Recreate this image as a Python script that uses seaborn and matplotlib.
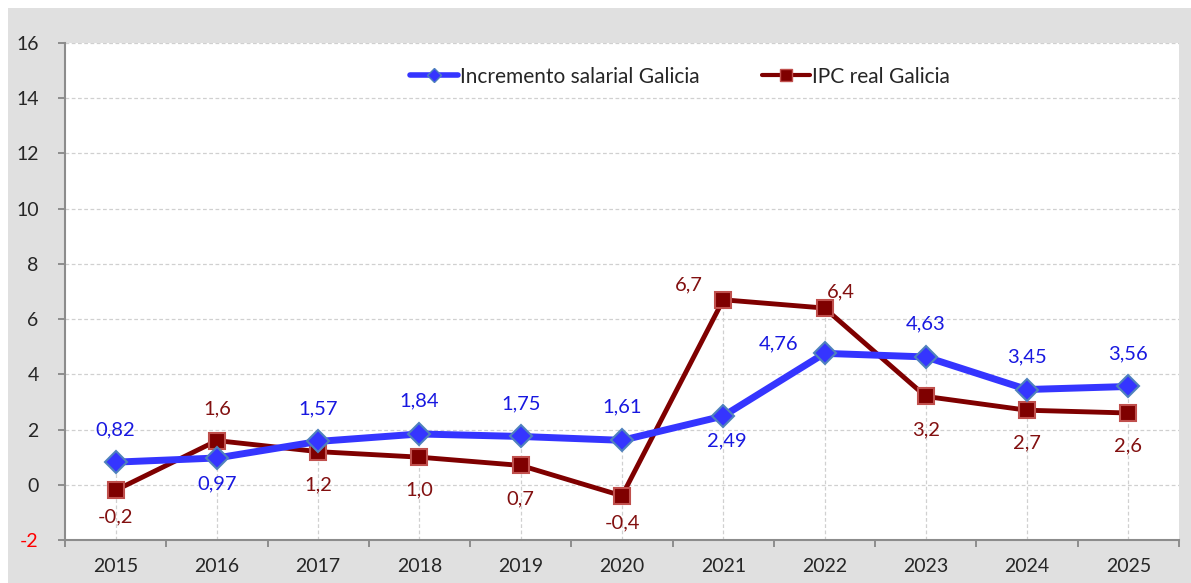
import matplotlib
matplotlib.use("Agg")
import matplotlib.pyplot as plt
import seaborn as sns
import pandas as pd
import numpy as np
from matplotlib.patches import Rectangle
from matplotlib.lines import Line2D

years = ["2015", "2016", "2017", "2018", "2019", "2020", "2021", "2022", "2023", "2024", "2025"]
salario = [0.82, 0.97, 1.57, 1.84, 1.75, 1.61, 2.49, 4.76, 4.63, 3.45, 3.56]
ipc = [-0.2, 1.6, 1.2, 1.0, 0.7, -0.4, 6.7, 6.4, 3.2, 2.7, 2.6]
series_names = ["Incremento salarial Galicia", "IPC real Galicia"]
y_ticks = [-2, 0, 2, 4, 6, 8, 10, 12, 14, 16]

sns.set_theme(style="white")
plt.rcParams['font.family'] = ['Lato', 'DejaVu Sans']

BLUE = "#3535ff"
BLUE_EDGE = "#4f81bd"
RED = "#7f0000"
RED_EDGE = "#c0504d"
LBL_BLUE = "#1818e0"
LBL_RED = "#821010"
FS_TICK = 14
FS_LBL = 14.5
FS_LEG = 15

fig = plt.figure(figsize=(11.91, 5.83), dpi=100, facecolor="white")
fig.patches.append(Rectangle((8/1191, 0), 1 - 8/1191, 1 - 8/583, transform=fig.transFigure,
                             facecolor="#e0e0e0", edgecolor="none", zorder=-10))
ax = fig.add_axes([65/1191, 1 - 540/583, (1179-65)/1191, (540-43)/583])
ax.set_facecolor("white")

x = np.arange(len(years))
df = pd.DataFrame({"x": np.concatenate([x, x]),
                   "v": salario + ipc,
                   "s": [series_names[0]] * len(x) + [series_names[1]] * len(x)})

# grid
for t in y_ticks[1:]:
    ax.axhline(t, color="#d0d0d0", lw=0.9, ls=(0, (3, 2)), zorder=0)
for xi, a, b in zip(x, salario, ipc):
    ax.plot([xi, xi], [-2, max(a, b)], color="#d0d0d0", lw=0.9, ls=(0, (3, 2)), zorder=0)

sns.lineplot(data=df[df.s == series_names[1]], x="x", y="v", ax=ax, color=RED, lw=3.5,
             marker="s", markersize=11.5, markerfacecolor=RED, markeredgecolor=RED_EDGE,
             markeredgewidth=1.5, legend=False, zorder=3)
sns.lineplot(data=df[df.s == series_names[0]], x="x", y="v", ax=ax, color=BLUE, lw=5,
             marker="D", markersize=11.5, markerfacecolor=BLUE, markeredgecolor=BLUE_EDGE,
             markeredgewidth=1.5, legend=False, zorder=4)

# label offsets in pixels (dx, dy)
off_sal = [(0, 32), (0, -26), (0, 33), (0, 33), (0, 33), (0, 33), (4, -25), (-46, 9), (0, 33), (0, 33), (0, 33)]
off_ipc = [(0, -27), (0, 32), (0, -33), (0, -33), (0, -33), (0, -27), (-34, 15), (16, 16), (0, -33), (0, -33), (0, -33)]
for xi, v, (dx, dy) in zip(x, salario, off_sal):
    ax.annotate(f"{v:.2f}".replace(".", ","), (xi, v), xytext=(dx * 0.72, dy * 0.72),
                textcoords="offset points", ha="center", va="center", color=LBL_BLUE, fontsize=FS_LBL, zorder=6)
for xi, v, (dx, dy) in zip(x, ipc, off_ipc):
    ax.annotate(f"{v:.1f}".replace(".", ","), (xi, v), xytext=(dx * 0.72, dy * 0.72),
                textcoords="offset points", ha="center", va="center", color=LBL_RED, fontsize=FS_LBL, zorder=6)

ax.set_xlim(-0.5, len(years) - 0.5)
ax.set_ylim(-2, 16)
ax.set_yticks(y_ticks)
ax.set_yticklabels([str(t) for t in y_ticks])
ax.get_yticklabels()[0].set_color("red")
ax.set_xticks(np.arange(-0.5, len(years)))
ax.set_xticklabels([])
ax.set_xticks(x, minor=True)
ax.set_xticklabels(years, minor=True)
ax.tick_params(axis="x", which="major", length=5, width=1.2, color="#7f7f7f", direction="out", bottom=True)
ax.tick_params(axis="x", which="minor", length=0, pad=13, labelsize=FS_TICK)
ax.tick_params(axis="y", length=5, width=1.2, color="#7f7f7f", direction="out", left=True, pad=14, labelsize=FS_TICK)
ax.set_xlabel("")
ax.set_ylabel("")
for s in ["top", "right"]:
    ax.spines[s].set_visible(False)
for s in ["left", "bottom"]:
    ax.spines[s].set_color("#8c8c8c")
    ax.spines[s].set_linewidth(1.5)

handles = [Line2D([], [], color=BLUE, lw=4, marker="D", markersize=7, markerfacecolor=BLUE, markeredgecolor=BLUE_EDGE),
           Line2D([], [], color=RED, lw=3, marker="s", markersize=8, markerfacecolor=RED, markeredgecolor=RED_EDGE)]
ax.legend(handles, series_names, loc="upper center", bbox_to_anchor=(0.552, 0.99), ncol=2, frameon=False,
          fontsize=FS_LEG, handlelength=2.3, handletextpad=0.1, columnspacing=3.0)

fig.savefig("out.png", dpi=100, facecolor=fig.get_facecolor())
